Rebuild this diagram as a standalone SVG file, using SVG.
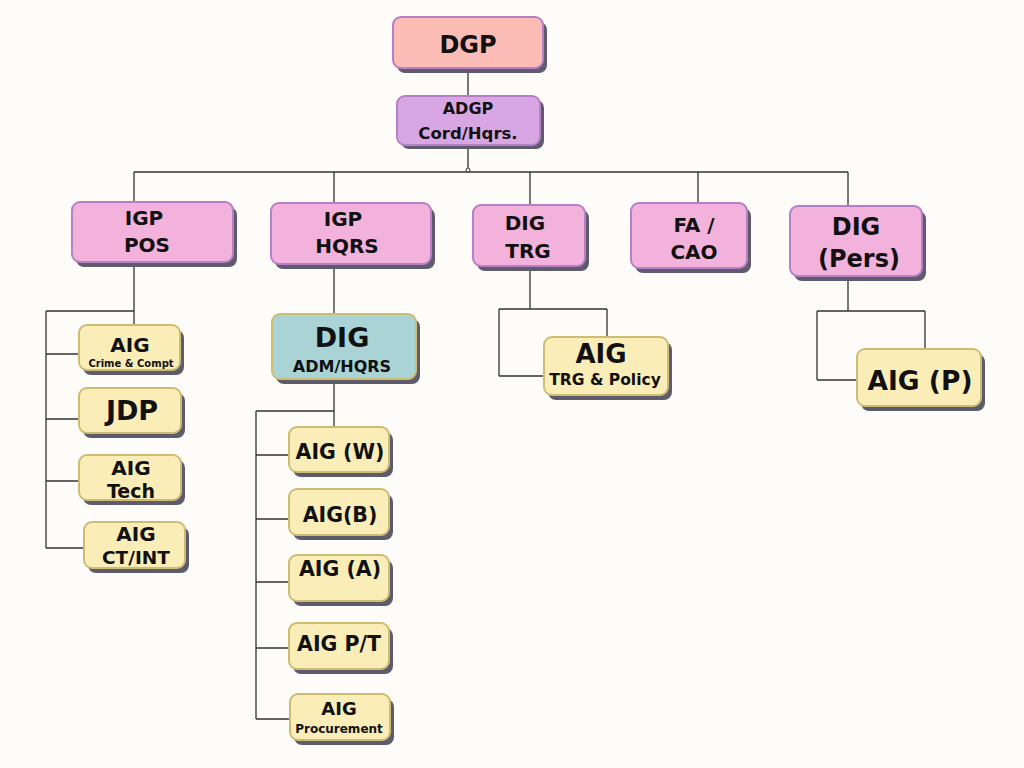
<svg xmlns="http://www.w3.org/2000/svg" width="1024" height="768" viewBox="0 0 1024 768">
<style>
.bg{fill:#fdfcf8}
.sh{fill:#5e5c6c}
.pk{fill:#f3b2dc;stroke:#b67fc7;stroke-width:2}
.dgp{fill:#fbbcb5;stroke:#b67fc7;stroke-width:2}
.adgp{fill:#d8a7e3;stroke:#b67fc7;stroke-width:2}
.yl{fill:#faedb8;stroke:#cdbd72;stroke-width:2}
.tl{fill:#a9d3d5;stroke:#cdbd72;stroke-width:2}
text{font-family:"DejaVu Sans","Liberation Sans",sans-serif;font-weight:bold;fill:#111;text-anchor:middle}
.ln{stroke:#333;stroke-width:1.3;fill:none}
</style>
<rect class="bg" x="0" y="0" width="1024" height="768"/>
<g id="connectors">
<path class="ln" d="M468 68V96M468 145V170M134 172H848M134 172V203M334 172V204M530 172V207M698 172V204M848 172V207"/>
<circle cx="468" cy="170" r="2" fill="#fff" stroke="#333" stroke-width="1"/>
<path class="ln" d="M134 262V325M46 311H134M46 311V548M46 354H79M46 419H79M46 481H79M46 548H84"/>
<path class="ln" d="M334 264V315M334 379V428M256 411H334M256 411V719M256 455H289M256 519H289M256 582H289M256 648H289M256 719H290"/>
<path class="ln" d="M530 266V309M499 309H607M499 309V376M607 309V337M499 376H544"/>
<path class="ln" d="M848 276V311M817 311H925M817 311V380M925 311V349M817 380H858"/>
</g>
<g id="dgp"><rect class="sh" x="397" y="22" width="150" height="51" rx="8"/><rect class="dgp" x="393" y="17" width="150" height="51" rx="8"/><text x="468" y="53" font-size="24">DGP</text></g>
<g id="adgp"><rect class="sh" x="401" y="100" width="143" height="49" rx="8"/><rect class="adgp" x="397" y="96" width="143" height="49" rx="8"/><text x="468" y="114" font-size="16">ADGP</text><text x="468" y="139" font-size="16.5">Cord/Hqrs.</text></g>
<g id="igp-pos"><rect class="sh" x="76" y="207" width="161" height="60" rx="8"/><rect class="pk" x="72" y="202" width="161" height="60" rx="8"/><text x="144" y="225" font-size="20">IGP</text><text x="147" y="252" font-size="20">POS</text></g>
<g id="igp-hqrs"><rect class="sh" x="275" y="208" width="160" height="61" rx="8"/><rect class="pk" x="271" y="203" width="160" height="61" rx="8"/><text x="343" y="226" font-size="20">IGP</text><text x="347" y="253" font-size="20">HQRS</text></g>
<g id="dig-trg"><rect class="sh" x="477" y="210" width="112" height="61" rx="8"/><rect class="pk" x="473" y="205" width="112" height="61" rx="8"/><text x="525" y="230" font-size="20">DIG</text><text x="528" y="258" font-size="20">TRG</text></g>
<g id="fa-cao"><rect class="sh" x="635" y="208" width="116" height="65" rx="8"/><rect class="pk" x="631" y="203" width="116" height="65" rx="8"/><text x="694" y="232" font-size="20">FA /</text><text x="694" y="259" font-size="20">CAO</text></g>
<g id="dig-pers"><rect class="sh" x="794" y="211" width="132" height="70" rx="8"/><rect class="pk" x="790" y="206" width="132" height="70" rx="8"/><text x="856" y="235" font-size="24">DIG</text><text x="859" y="267" font-size="24">(Pers)</text></g>
<g id="aig-crime"><rect class="sh" x="83" y="330" width="101" height="45" rx="8"/><rect class="yl" x="79" y="325" width="101" height="45" rx="8"/><text x="130" y="352" font-size="20">AIG</text><text x="131" y="367" font-size="10">Crime &amp; Compt</text></g>
<g id="jdp"><rect class="sh" x="83" y="393" width="102" height="45" rx="8"/><rect class="yl" x="79" y="388" width="102" height="45" rx="8"/><text x="132" y="420" font-size="27">JDP</text></g>
<g id="aig-tech"><rect class="sh" x="83" y="460" width="102" height="45" rx="8"/><rect class="yl" x="79" y="455" width="102" height="45" rx="8"/><text x="131" y="475" font-size="20">AIG</text><text x="131" y="498" font-size="19">Tech</text></g>
<g id="aig-ctint"><rect class="sh" x="88" y="527" width="101" height="46" rx="8"/><rect class="yl" x="84" y="522" width="101" height="46" rx="8"/><text x="136" y="541" font-size="20">AIG</text><text x="136" y="564" font-size="18.5">CT/INT</text></g>
<g id="dig-adm"><rect class="sh" x="276" y="319" width="144" height="65" rx="8"/><rect class="tl" x="272" y="314" width="144" height="65" rx="8"/><text x="342" y="347" font-size="27">DIG</text><text x="342" y="372" font-size="16">ADM/HQRS</text></g>
<g id="aig-w"><rect class="sh" x="293" y="432" width="100" height="45" rx="8"/><rect class="yl" x="289" y="427" width="100" height="45" rx="8"/><text x="340" y="459" font-size="20.5">AIG (W)</text></g>
<g id="aig-b"><rect class="sh" x="293" y="494" width="100" height="46" rx="8"/><rect class="yl" x="289" y="489" width="100" height="46" rx="8"/><text x="340" y="522" font-size="20.5">AIG(B)</text></g>
<g id="aig-a"><rect class="sh" x="293" y="560" width="100" height="46" rx="8"/><rect class="yl" x="289" y="555" width="100" height="46" rx="8"/><text x="340" y="576" font-size="20.5">AIG (A)</text></g>
<g id="aig-pt"><rect class="sh" x="293" y="628" width="100" height="46" rx="8"/><rect class="yl" x="289" y="623" width="100" height="46" rx="8"/><text x="339" y="651" font-size="20.5">AIG P/T</text></g>
<g id="aig-proc"><rect class="sh" x="294" y="699" width="100" height="46" rx="8"/><rect class="yl" x="290" y="694" width="100" height="46" rx="8"/><text x="339" y="715" font-size="18">AIG</text><text x="339" y="733" font-size="12">Procurement</text></g>
<g id="aig-trg"><rect class="sh" x="548" y="342" width="124" height="58" rx="8"/><rect class="yl" x="544" y="337" width="124" height="58" rx="8"/><text x="601" y="363" font-size="26">AIG</text><text x="605" y="385" font-size="15.5">TRG &amp; Policy</text></g>
<g id="aig-p"><rect class="sh" x="861" y="354" width="124" height="57" rx="8"/><rect class="yl" x="857" y="349" width="124" height="57" rx="8"/><text x="920" y="390" font-size="26.5">AIG (P)</text></g>
</svg>
